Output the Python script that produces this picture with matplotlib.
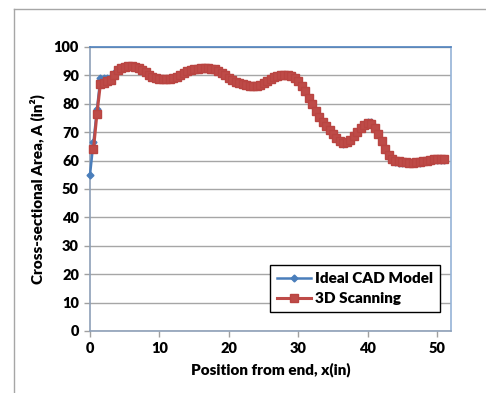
import numpy as np
import matplotlib
matplotlib.use("Agg")
import matplotlib.pyplot as plt
from matplotlib.lines import Line2D

plt.rcParams['font.family'] = ['Lato', 'DejaVu Sans']
plt.rcParams['font.weight'] = 'heavy'

# positions (in), 0.5 in steps
x_cad = np.arange(0, 51.01, 0.5)
x_scan = np.arange(0.5, 51.01, 0.5)

# cross-sectional area (in^2)
area_cad = [
    55.0, 66.5, 78.0, 89.0, 89.0, 89.2, 89.5, 91.0, 92.3, 93.0,
    93.2, 93.3, 93.3, 93.1, 92.7, 92.1, 91.3, 90.4, 89.7, 89.2,
    89.0, 88.9, 88.9, 89.0, 89.2, 89.6, 90.3, 91.0, 91.5, 91.9,
    92.2, 92.4, 92.6, 92.7, 92.7, 92.5, 92.2, 91.7, 91.0, 90.2,
    89.3, 88.5, 87.8, 87.2, 86.8, 86.5, 86.3, 86.2, 86.3, 86.6,
    87.2, 88.0, 88.8, 89.4, 89.9, 90.1, 90.2, 90.2, 90.0, 89.3,
    88.1, 86.4, 84.3, 82.0, 79.7, 77.3, 75.2, 73.5, 72.1, 70.6,
    69.0, 67.6, 66.4, 65.8, 66.1, 67.1, 68.5, 70.1, 71.6, 72.9,
    73.7, 73.6, 72.0, 69.6, 66.7, 63.7, 61.4, 60.1, 59.6, 59.3,
    59.2, 59.1, 59.0, 59.0, 59.1, 59.3, 59.5, 59.7, 59.9, 60.1,
    60.2, 60.3, 60.3,
]
area_scan = [
    64.0, 76.5, 87.0, 87.5, 88.0, 88.5, 90.0, 91.8, 92.7,
    93.1, 93.2, 93.2, 93.0, 92.6, 92.0, 91.2, 90.3, 89.6, 89.1,
    88.9, 88.8, 88.8, 88.9, 89.1, 89.5, 90.2, 90.9, 91.4, 91.8,
    92.1, 92.3, 92.5, 92.6, 92.6, 92.4, 92.1, 91.6, 90.9, 90.1,
    89.2, 88.4, 87.7, 87.2, 86.9, 86.6, 86.4, 86.3, 86.4, 86.7,
    87.3, 88.1, 88.8, 89.4, 89.8, 90.0, 90.1, 90.1, 89.9, 89.2,
    88.0, 86.4, 84.4, 82.2, 80.0, 77.6, 75.5, 73.7, 72.3, 70.8,
    69.3, 67.9, 66.8, 66.3, 66.5, 67.4, 68.6, 70.0, 71.4, 72.6,
    73.2, 73.0, 71.6, 69.5, 66.8, 64.0, 61.8, 60.5, 60.0, 59.7,
    59.5, 59.4, 59.3, 59.3, 59.4, 59.6, 59.8, 60.0, 60.2, 60.4,
    60.5, 60.6, 60.6,
]

fig = plt.figure(figsize=(4.86, 3.93), dpi=100)
ax = fig.add_axes([90 / 486, 1 - 331 / 393, 361 / 486, 284 / 393])

ax.plot(x_cad, area_cad, color='#4A7EBB', lw=1.8, marker='D', ms=3.5,
        mec='#4A7EBB', label='Ideal CAD Model', zorder=3, clip_on=False)
ax.plot(x_scan, area_scan, color='#BE4B48', lw=2.2, marker='s', ms=5.8,
        mec='#B94441', label='3D Scanning', zorder=4, clip_on=False)

ax.set_xlim(0, 52)
ax.set_ylim(0, 100)
ax.set_xticks(range(0, 51, 10))
ax.set_yticks(range(0, 101, 10))
ax.yaxis.grid(True, color='#A6A6A6', lw=1)
ax.set_axisbelow(True)
ax.tick_params(axis='both', direction='out', length=4, width=1,
               color='#A0A0A0', labelsize=10.5, pad=4)
for lab in ax.get_xticklabels() + ax.get_yticklabels():
    lab.set_fontweight('heavy')

ax.spines['left'].set_color('#8EA0B8')
ax.spines['bottom'].set_color('#8EA0B8')
ax.spines['top'].set_color('#4F81BD')
ax.spines['right'].set_color('#95B3D7')
for s in ax.spines.values():
    s.set_linewidth(1.2)

ax.set_xlabel('Position from end, x(in)', fontsize=11, fontweight='heavy', labelpad=5)
ax.set_ylabel('Cross-sectional Area, A (in\u00b2)', fontsize=11, fontweight='heavy', labelpad=6)

leg = ax.legend(loc='lower right', bbox_to_anchor=(0.97, 0.067), borderaxespad=0,
                fancybox=False, edgecolor='black', framealpha=1,
                prop={'size': 11, 'weight': 'heavy'}, handlelength=2.2,
                handletextpad=0.3, borderpad=0.45, labelspacing=0.45)
leg.get_frame().set_linewidth(1.0)

# outer chart border (partly cropped)
fig.add_artist(Line2D([14 / 486, 1.0], [1 - 9 / 393, 1 - 9 / 393],
                      transform=fig.transFigure, color='#A6A6A6', lw=1))
fig.add_artist(Line2D([14 / 486, 14 / 486], [0, 1 - 9 / 393],
                      transform=fig.transFigure, color='#A6A6A6', lw=1))

fig.savefig('out.png', dpi=100)
